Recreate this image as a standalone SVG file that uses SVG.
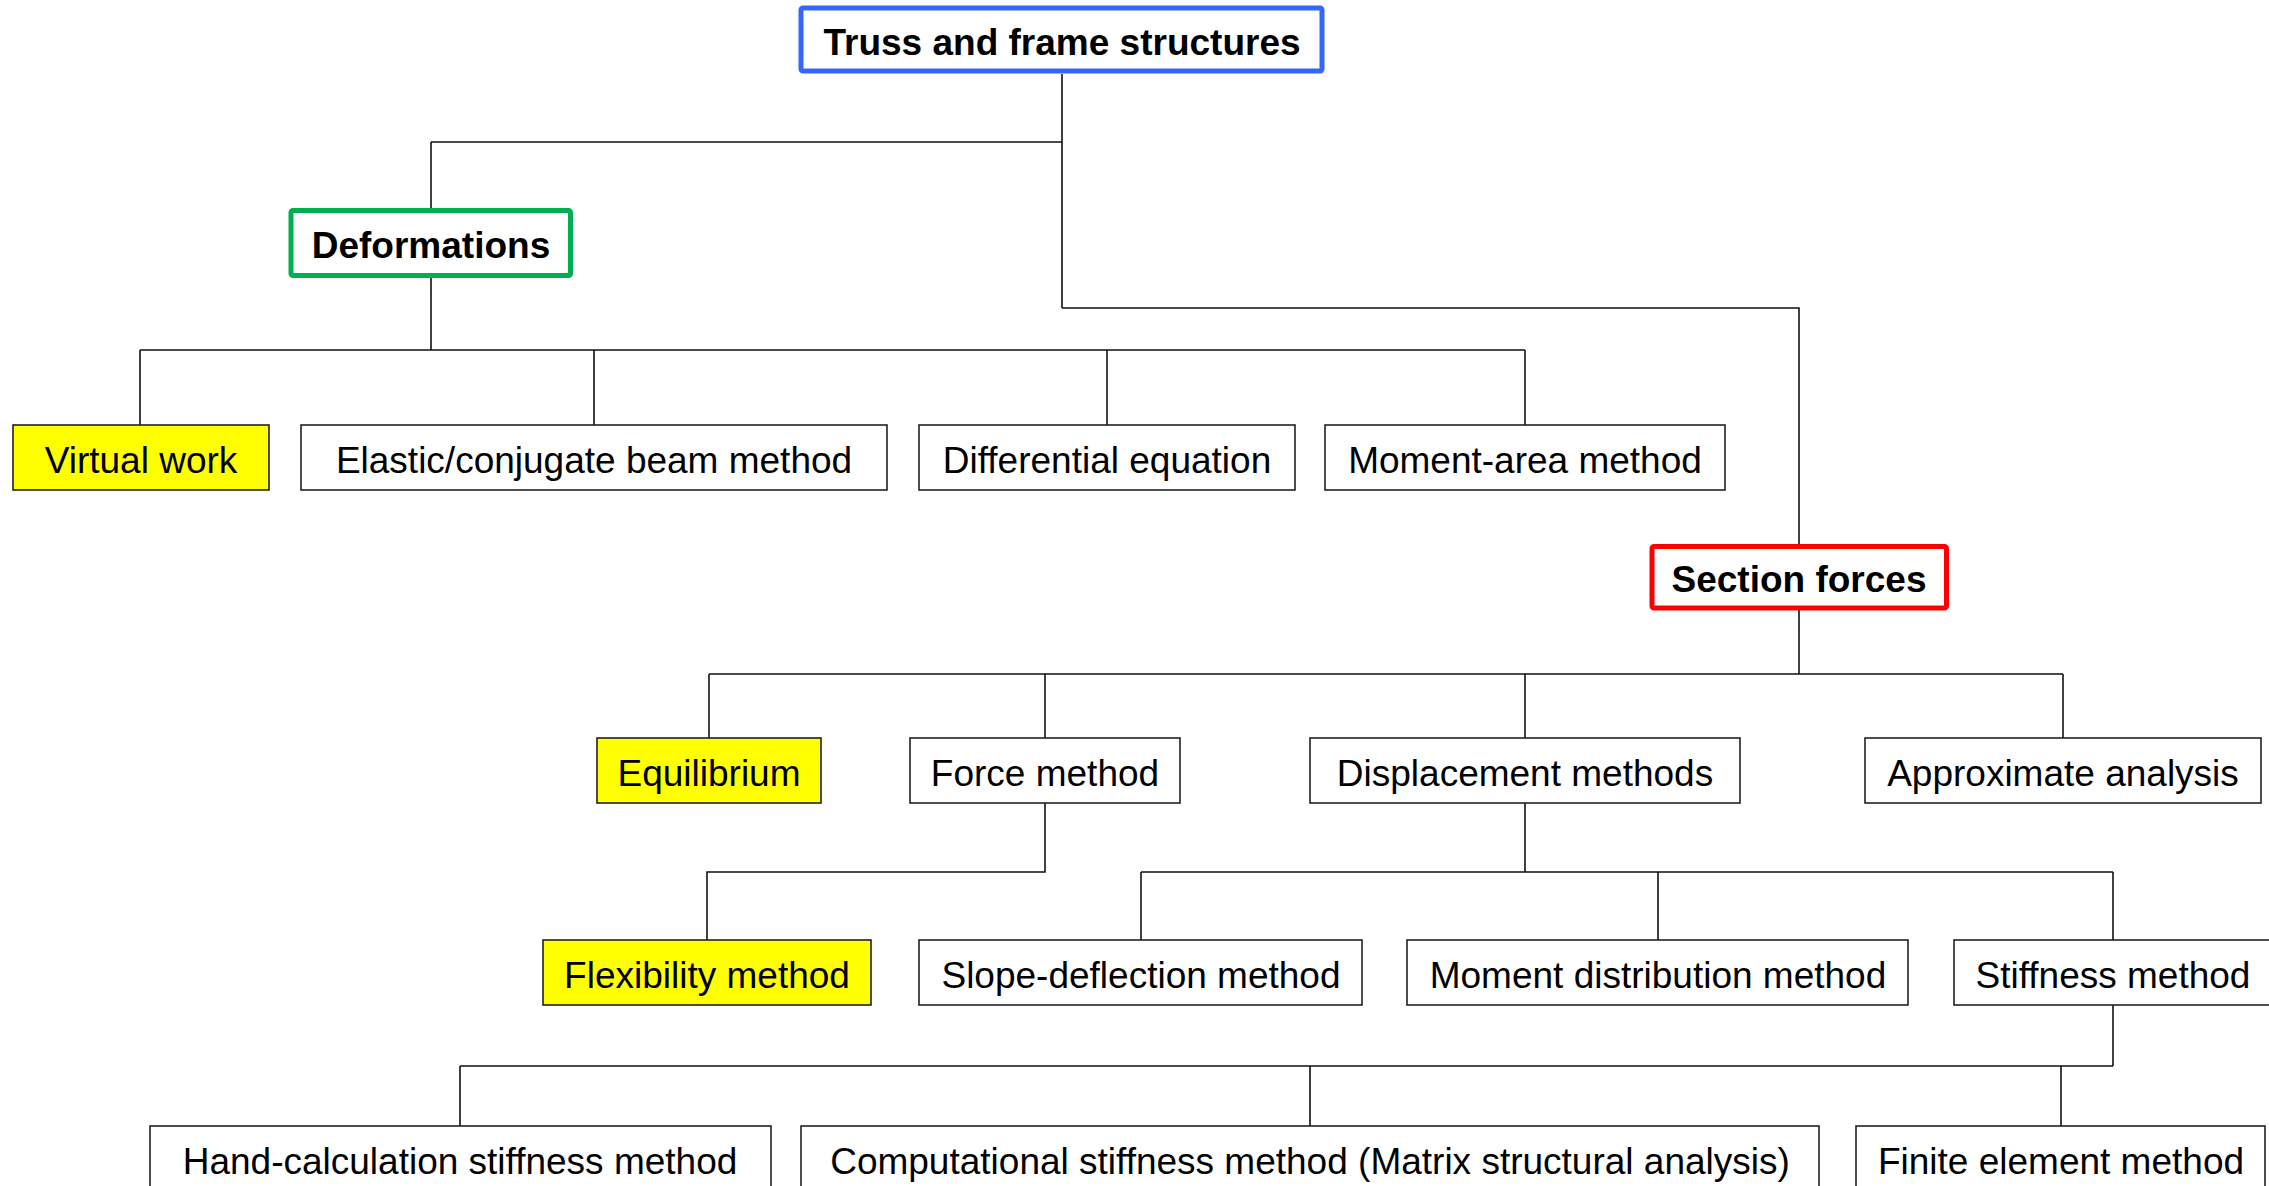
<svg xmlns="http://www.w3.org/2000/svg" width="2269" height="1186" viewBox="0 0 2269 1186">
<style>
.box{fill:#ffffff;stroke:#222222;stroke-width:1.6}
.hl{fill:#ffff00;stroke:#222222;stroke-width:1.6}
.main{fill:#ffffff;stroke-width:5}
text{font-family:"Liberation Sans",Arial,sans-serif;font-size:37px;fill:#000;text-anchor:middle}
.b{font-weight:bold}
#connectors path{fill:none;stroke:#111;stroke-width:1.6}
</style>
<rect x="0" y="0" width="2269" height="1186" fill="#ffffff"/>
<g id="connectors">
<path d="M1062 74V308M431 142H1062M431 142V209M1062 308H1799V544"/>
<path d="M431 277V350M140 350H1525M140 350V425M594 350V425M1107 350V425M1525 350V425"/>
<path d="M1799 610V674M709 674H2063M709 674V738M1045 674V738M1525 674V738M2063 674V738"/>
<path d="M1045 803V872H707V940"/>
<path d="M1525 803V872M1141 872H2113M1141 872V940M1658 872V940M2113 872V940"/>
<path d="M2113 1005V1066M460 1066H2113M460 1066V1126M1310 1066V1126M2061 1066V1126"/>
</g>
<g id="n-truss"><rect class="main" x="801" y="8" width="521" height="63" rx="2" stroke="#3366ff"/><text class="b" x="1062" y="55">Truss and frame structures</text></g>
<g id="n-deformations"><rect class="main" x="291" y="210.5" width="279.5" height="65" rx="2" stroke="#00b050"/><text class="b" x="431" y="257.5">Deformations</text></g>
<g id="n-section"><rect class="main" x="1652" y="546.5" width="294.5" height="61.5" rx="2" stroke="#ff0000"/><text class="b" x="1799" y="591.5">Section forces</text></g>
<g id="n-virtual"><rect class="hl" x="13" y="425" width="256" height="65"/><text x="141" y="473">Virtual work</text></g>
<g id="n-elastic"><rect class="box" x="301" y="425" width="586" height="65"/><text x="594" y="473">Elastic/conjugate beam method</text></g>
<g id="n-differential"><rect class="box" x="919" y="425" width="376" height="65"/><text x="1107" y="473">Differential equation</text></g>
<g id="n-momentarea"><rect class="box" x="1325" y="425" width="400" height="65"/><text x="1525" y="473">Moment-area method</text></g>
<g id="n-equilibrium"><rect class="hl" x="597" y="738" width="224" height="65"/><text x="709" y="786">Equilibrium</text></g>
<g id="n-force"><rect class="box" x="910" y="738" width="270" height="65"/><text x="1045" y="786">Force method</text></g>
<g id="n-displacement"><rect class="box" x="1310" y="738" width="430" height="65"/><text x="1525" y="786">Displacement methods</text></g>
<g id="n-approx"><rect class="box" x="1865" y="738" width="396" height="65"/><text x="2063" y="786">Approximate analysis</text></g>
<g id="n-flexibility"><rect class="hl" x="543" y="940" width="328" height="65"/><text x="707" y="988">Flexibility method</text></g>
<g id="n-slope"><rect class="box" x="919" y="940" width="443" height="65"/><text x="1141" y="988">Slope-deflection method</text></g>
<g id="n-momentdist"><rect class="box" x="1407" y="940" width="501" height="65"/><text x="1658" y="988">Moment distribution method</text></g>
<g id="n-stiffness"><rect class="box" x="1954" y="940" width="318" height="65"/><text x="2113" y="988">Stiffness method</text></g>
<g id="n-hand"><rect class="box" x="150" y="1126" width="621" height="65"/><text x="460" y="1174">Hand-calculation stiffness method</text></g>
<g id="n-computational"><rect class="box" x="801" y="1126" width="1018" height="65"/><text x="1310" y="1174">Computational stiffness method (Matrix structural analysis)</text></g>
<g id="n-fem"><rect class="box" x="1856" y="1126" width="409" height="65"/><text x="2061" y="1174">Finite element method</text></g>
</svg>
